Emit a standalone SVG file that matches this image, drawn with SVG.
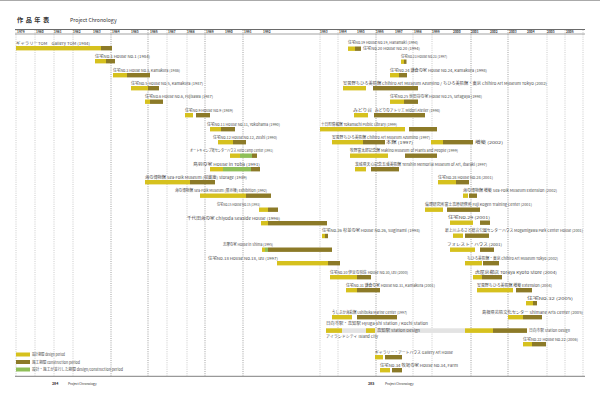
<svg xmlns="http://www.w3.org/2000/svg" width="600" height="395" viewBox="0 0 600 395">
<style>
.y{fill:#d6c11e}.o{fill:#8c7a28}.g{fill:#8fbf58}.l{fill:#e3e3e3}
text{font-family:"Noto Sans CJK JP","Noto Sans",sans-serif;fill:#333}
.t{font-size:4px;fill:#4a4a4a}
.yr{font-size:3.2px;font-weight:bold;fill:#333}
.gl{stroke:#aaa;stroke-width:0.6;stroke-dasharray:1 1.2}
.gd{stroke:#777;stroke-width:0.7;stroke-dasharray:1 1.2}
</style>
<rect x="0" y="0" width="600" height="395" fill="#fff"/>
<rect x="0" y="0" width="600" height="1" fill="#aaa"/>
<g id="title">
<text x="17" y="22" font-size="6.2" font-weight="bold" letter-spacing="2.5">作品年表</text>
<text x="70" y="22" font-size="5.2" fill="#444">Project Chronology</text>
</g>
<g id="grid">
<line class="gl" x1="16" y1="30" x2="16" y2="376"/>
<line class="gl" x1="35" y1="30" x2="35" y2="376"/>
<line class="gl" x1="54" y1="30" x2="54" y2="376"/>
<line class="gl" x1="73" y1="30" x2="73" y2="376"/>
<line class="gd" x1="111" y1="30" x2="111" y2="376"/>
<line class="gd" x1="148" y1="30" x2="148" y2="376"/>
<line class="gl" x1="167" y1="30" x2="167" y2="376"/>
<line class="gl" x1="187" y1="30" x2="187" y2="376"/>
<line class="gd" x1="205" y1="30" x2="205" y2="376"/>
<line class="gd" x1="243" y1="30" x2="243" y2="376"/>
<line class="gl" x1="320" y1="30" x2="320" y2="376"/>
<line class="gl" x1="338" y1="30" x2="338" y2="376"/>
<line class="gd" x1="376" y1="30" x2="376" y2="376"/>
<line class="gl" x1="413" y1="30" x2="413" y2="376"/>
<line class="gl" x1="432" y1="30" x2="432" y2="376"/>
<line class="gd" x1="471" y1="30" x2="471" y2="376"/>
<line class="gd" x1="508" y1="30" x2="508" y2="376"/>
<line class="gl" x1="547" y1="30" x2="547" y2="376"/>
<line class="gl" x1="565" y1="30" x2="565" y2="376"/>
<line class="gl" x1="583" y1="30" x2="583" y2="376"/>
</g>
<g id="header">
<line x1="15" y1="29.5" x2="585" y2="29.5" stroke="#444" stroke-width="0.8"/>
<line x1="15" y1="34" x2="585" y2="34" stroke="#666" stroke-width="0.6"/>
<text class="yr" x="17" y="33">1979</text><text class="yr" x="36" y="33">1980</text><text class="yr" x="54" y="33">1981</text><text class="yr" x="73" y="33">1982</text><text class="yr" x="93" y="33">1983</text><text class="yr" x="112" y="33">1984</text><text class="yr" x="131" y="33">1985</text><text class="yr" x="150" y="33">1986</text><text class="yr" x="168" y="33">1987</text><text class="yr" x="187" y="33">1988</text><text class="yr" x="206" y="33">1989</text><text class="yr" x="225" y="33">1990</text><text class="yr" x="244" y="33">1991</text><text class="yr" x="263" y="33">1992</text>
<text class="yr" x="320" y="33">1993</text><text class="yr" x="339" y="33">1994</text><text class="yr" x="357" y="33">1995</text><text class="yr" x="376" y="33">1996</text><text class="yr" x="395" y="33">1997</text><text class="yr" x="414" y="33">1998</text><text class="yr" x="432" y="33">1999</text><text class="yr" x="453" y="33">2000</text><text class="yr" x="471" y="33">2001</text><text class="yr" x="490" y="33">2002</text><text class="yr" x="509" y="33">2003</text><text class="yr" x="527" y="33">2004</text><text class="yr" x="547" y="33">2005</text><text class="yr" x="566" y="33">2006</text>
</g>
<g id="L1"><text class="t" x="16" y="44.8" textLength="74" lengthAdjust="spacingAndGlyphs">ギャラリーTOM　Gallery TOM (1984)</text><rect class="y" x="16" y="46" width="85" height="4.4"/><rect class="o" x="101" y="46" width="11" height="4.4"/></g>
<g id="L2"><text class="t" x="95" y="57.8" textLength="55" lengthAdjust="spacingAndGlyphs">住宅No.1 House No.1 (1984)</text><rect class="y" x="95" y="59" width="11" height="4.4"/><rect class="o" x="106" y="59" width="9" height="4.4"/></g>
<g id="L3"><text class="t" x="113" y="71.8" textLength="67" lengthAdjust="spacingAndGlyphs">住宅No.3 House No.3, Kamakura (1986)</text><rect class="y" x="113" y="73" width="14" height="4.4"/><rect class="o" x="127" y="73" width="23" height="4.4"/></g>
<g id="L4"><text class="t" x="131" y="84.8" textLength="72" lengthAdjust="spacingAndGlyphs">住宅No.5 House No.5, Kamakura (1987)</text><rect class="y" x="131" y="86" width="17" height="4.4"/><rect class="o" x="148" y="86" width="11" height="4.4"/></g>
<g id="L5"><text class="t" x="145" y="98.3" textLength="68" lengthAdjust="spacingAndGlyphs">住宅No.6 House No.6, Fujisawa (1987)</text><rect class="y" x="145" y="99.5" width="5" height="4.4"/><rect class="o" x="150" y="99.5" width="13" height="4.4"/></g>
<g id="L6"><text class="t" x="185" y="111.8" textLength="48" lengthAdjust="spacingAndGlyphs">住宅No.9 House No.9 (1989)</text><rect class="y" x="185" y="113" width="8" height="4.4"/><rect class="o" x="196" y="113" width="14" height="4.4"/></g>
<g id="L7"><text class="t" x="207" y="125.8" textLength="73" lengthAdjust="spacingAndGlyphs">住宅No.11 House No.11, Yokohama (1990)</text><rect class="y" x="210" y="127" width="11" height="4.4"/><rect class="o" x="221" y="127" width="14" height="4.4"/></g>
<g id="L8"><text class="t" x="213" y="138.8" textLength="64" lengthAdjust="spacingAndGlyphs">住宅No.12 House No.12, Zushi (1990)</text><rect class="y" x="218" y="140" width="15" height="4.4"/><rect class="o" x="233" y="140" width="13" height="4.4"/></g>
<g id="L9"><text class="t" x="190" y="152.3" textLength="83" lengthAdjust="spacingAndGlyphs">オートキャンプ場センターハウス Auto Camp Center (1991)</text><rect class="y" x="230" y="153.5" width="10" height="4.4"/><rect class="g" x="240" y="153.5" width="12" height="4.4"/><rect class="o" x="252" y="153.5" width="5" height="4.4"/></g>
<g id="L10"><text class="t" x="193" y="165.8" textLength="67" lengthAdjust="spacingAndGlyphs">鳥羽の家 House in Toba (1991)</text><rect class="y" x="210" y="167" width="13" height="4.4"/><rect class="g" x="223" y="167" width="28" height="4.4"/><rect class="o" x="251" y="167" width="9" height="4.4"/></g>
<g id="L11"><text class="t" x="145" y="178.8" textLength="102" lengthAdjust="spacingAndGlyphs">海の博物館 Sea-Folk Museum (収蔵庫) Storage (1989)</text><rect class="y" x="145" y="180" width="45" height="4.4"/><rect class="o" x="190" y="180" width="25" height="4.4"/></g>
<g id="L12"><text class="t" x="175" y="192.3" textLength="92" lengthAdjust="spacingAndGlyphs">海の博物館 Sea-Folk Museum (展示棟) Exhibition (1992)</text><rect class="y" x="200" y="193.5" width="46" height="4.4"/><rect class="o" x="246" y="193.5" width="25" height="4.4"/></g>
<g id="L13"><text class="t" x="217" y="206.3" textLength="43" lengthAdjust="spacingAndGlyphs">住宅No.15 House No.15 (1993)</text><rect class="y" x="259" y="207.5" width="9" height="4.4"/><rect class="o" x="268" y="207.5" width="10" height="4.4"/></g>
<g id="L14"><text class="t" x="187" y="219.8" textLength="93" lengthAdjust="spacingAndGlyphs">千代田海の家 Chiyoda Seaside House (1996)</text><rect class="y" x="261" y="221" width="7" height="4.4"/><rect class="o" x="268" y="221" width="59" height="4.4"/></g>
<g id="L15"><text class="t" x="223" y="246.3" textLength="50" lengthAdjust="spacingAndGlyphs">志摩の家 House in Shima (1995)</text><rect class="y" x="262" y="247.5" width="3" height="4.4"/><rect class="g" x="265" y="247.5" width="3" height="4.4"/><rect class="o" x="268" y="247.5" width="64" height="4.4"/></g>
<g id="L16"><text class="t" x="208" y="259.8" textLength="70" lengthAdjust="spacingAndGlyphs">住宅No.18 House No.18, Izu (1997)</text><rect class="y" x="277" y="261" width="51" height="4.4"/><rect class="o" x="328" y="261" width="12" height="4.4"/></g>
<g id="R1"><text class="t" x="348" y="44.3" textLength="70" lengthAdjust="spacingAndGlyphs">住宅No.19 House No.19, Hanamaki (1994)</text><rect class="y" x="348" y="46.5" width="7" height="4.4"/><rect class="o" x="355" y="46.5" width="6" height="4.4"/></g>
<g id="R2"><text class="t" x="363" y="50" textLength="57" lengthAdjust="spacingAndGlyphs">住宅No.20 House No.20 (1994)</text></g>
<g id="R3"><text class="t" x="401" y="58.3" textLength="46" lengthAdjust="spacingAndGlyphs">住宅No.23 House No.23 (1997)</text><rect class="y" x="401" y="59.5" width="3" height="4.4"/><rect class="o" x="404" y="59.5" width="2.5" height="4.4"/></g>
<g id="R4"><text class="t" x="390" y="71.8" textLength="97" lengthAdjust="spacingAndGlyphs">住宅No.24 鎌倉の家 House No.24, Kamakura (1998)</text><rect class="y" x="390" y="73" width="9" height="4.4"/><rect class="o" x="399" y="73" width="8" height="4.4"/></g>
<g id="R5"><text class="t" x="343" y="84.8" textLength="204" lengthAdjust="spacingAndGlyphs">安曇野ちひろ美術館 Chihiro Art Museum Azumino / ちひろ美術館・東京 Chihiro Art Museum Tokyo (2002)</text><rect class="y" x="343" y="86" width="23" height="4.4"/><rect class="o" x="373" y="86" width="45" height="4.4"/></g>
<g id="R6"><text class="t" x="390" y="98.3" textLength="92" lengthAdjust="spacingAndGlyphs">住宅No.25 世田谷の家 House No.25, Setagaya (1998)</text><rect class="y" x="390" y="99.5" width="14" height="4.4"/><rect class="o" x="404" y="99.5" width="14" height="4.4"/></g>
<g id="R7"><text class="t" x="353" y="111.8" textLength="19" lengthAdjust="spacingAndGlyphs">みどり台</text><text class="t" x="375" y="111.8" textLength="65" lengthAdjust="spacingAndGlyphs">みどりのアトリエ Midori Atelier (1998)</text><rect class="y" x="354" y="113" width="14" height="4.4"/><rect class="o" x="374" y="113" width="51" height="4.4"/></g>
<g id="R8"><text class="t" x="321" y="125.8" textLength="76" lengthAdjust="spacingAndGlyphs">十日町情報館 Tokamachi Public Library (1999)</text><rect class="y" x="320" y="127" width="85" height="4.4"/><rect class="o" x="409" y="127" width="28" height="4.4"/></g>
<g id="R9"><text class="t" x="332" y="138.8" textLength="98" lengthAdjust="spacingAndGlyphs">安曇野ちひろ美術館 Chihiro Art Museum Azumino (1997)</text><rect class="y" x="332" y="140" width="31" height="4.4"/><rect class="o" x="363" y="140" width="22" height="4.4"/><text class="t" x="386" y="143.5" textLength="27" lengthAdjust="spacingAndGlyphs">本館 (1997)</text><rect class="y" x="431" y="140" width="12" height="4.4"/><rect class="o" x="443" y="140" width="30" height="4.4"/><text class="t" x="475" y="143.5" textLength="28" lengthAdjust="spacingAndGlyphs">増築 (2002)</text></g>
<g id="R10"><text class="t" x="350" y="152.3" textLength="108" lengthAdjust="spacingAndGlyphs">牧野富太郎記念館 Makino Museum of Plants and People (1999)</text><rect class="y" x="350" y="153.5" width="38" height="4.4"/><rect class="o" x="405" y="153.5" width="32" height="4.4"/></g>
<g id="R11"><text class="t" x="355" y="165.8" textLength="132" lengthAdjust="spacingAndGlyphs">茨城県天心記念五浦美術館 Tenshin Memorial Museum of Art, Ibaraki (1997)</text><rect class="y" x="355" y="167" width="11" height="4.4"/><rect class="o" x="371" y="167" width="28" height="4.4"/></g>
<g id="R12"><text class="t" x="438" y="178.8" textLength="55" lengthAdjust="spacingAndGlyphs">住宅No.28 House No.28 (2001)</text><rect class="y" x="438" y="180" width="18" height="4.4"/><rect class="o" x="456" y="180" width="13" height="4.4"/></g>
<g id="R13"><text class="t" x="463" y="192.3" textLength="94" lengthAdjust="spacingAndGlyphs">海の博物館 増築 Sea-Folk Museum Extension (2002)</text><rect class="y" x="463" y="193.5" width="5" height="4.4"/><rect class="o" x="469" y="193.5" width="8" height="4.4"/></g>
<g id="R14"><text class="t" x="425" y="206.3" textLength="107" lengthAdjust="spacingAndGlyphs">倫理研究所富士高原研修所 Fuji Kogen Training Center (2001)</text><rect class="y" x="425" y="207.5" width="18" height="4.4"/><rect class="o" x="447" y="207.5" width="33" height="4.4"/></g>
<g id="R15"><text class="t" x="448" y="219.3" textLength="42" lengthAdjust="spacingAndGlyphs">住宅No.29 (2001)</text><rect class="y" x="450" y="220.5" width="23" height="4.4"/><rect class="o" x="480" y="220.5" width="10" height="4.4"/></g>
<g id="R16"><text class="t" x="445" y="232.3" textLength="138" lengthAdjust="spacingAndGlyphs">最上川ふるさと総合公園センターハウス Mogamigawa Park Center House (2001)</text><rect class="y" x="453" y="233.5" width="10" height="4.4"/><rect class="o" x="465" y="233.5" width="24" height="4.4"/></g>
<g id="R17"><text class="t" x="322" y="232.3" textLength="98" lengthAdjust="spacingAndGlyphs">住宅No.26 杉並の家 House No.26, Suginami (1998)</text><rect class="y" x="322" y="233.8" width="3" height="4.4"/><rect class="o" x="325" y="233.8" width="3" height="4.4"/></g>
<g id="R18"><text class="t" x="447" y="246.3" textLength="55" lengthAdjust="spacingAndGlyphs">フォレスト・ハウス (2001)</text><rect class="y" x="450" y="247.5" width="25" height="4.4"/><rect class="o" x="480" y="247.5" width="14" height="4.4"/></g>
<g id="R19"><text class="t" x="467" y="259.8" textLength="91" lengthAdjust="spacingAndGlyphs">ちひろ美術館・東京 Chihiro Art Museum Tokyo (2002)</text><rect class="y" x="465" y="261" width="17" height="4.4"/><rect class="o" x="483" y="261" width="16" height="4.4"/></g>
<g id="R20"><text class="t" x="330" y="273.8" textLength="78" lengthAdjust="spacingAndGlyphs">住宅No.30 伊豆の別荘 House No.30, Izu (2000)</text><rect class="y" x="330" y="275" width="27" height="4.4"/><rect class="o" x="357" y="275" width="14" height="4.4"/></g>
<g id="R21"><text class="t" x="475" y="273.8" textLength="82" lengthAdjust="spacingAndGlyphs">虎屋京都店 Toraya Kyoto Store (2004)</text><rect class="y" x="473" y="275" width="9" height="4.4"/><rect class="o" x="482" y="275" width="20" height="4.4"/></g>
<g id="R22"><text class="t" x="346" y="286.8" textLength="89" lengthAdjust="spacingAndGlyphs">住宅No.31 鎌倉の家 House No.31, Kamakura (2001)</text><rect class="y" x="346" y="288" width="11" height="4.4"/><rect class="o" x="357" y="288" width="23" height="4.4"/></g>
<g id="R23"><text class="t" x="477" y="286.8" textLength="75" lengthAdjust="spacingAndGlyphs">安曇野ちひろ美術館 増築 Extension (2004)</text><rect class="y" x="477" y="288" width="36" height="4.4"/><rect class="o" x="516" y="288" width="16" height="4.4"/></g>
<g id="R24"><text class="t" x="527" y="299.8" textLength="46" lengthAdjust="spacingAndGlyphs">住宅No.32 (2005)</text><rect class="y" x="526" y="301" width="7" height="4.4"/><rect class="o" x="533" y="301" width="4" height="4.4"/></g>
<g id="R25"><text class="t" x="332" y="313.8" textLength="75" lengthAdjust="spacingAndGlyphs">うしぶか海彩館 Ushibuka Marine Center (1997)</text><rect class="y" x="332" y="315" width="20" height="4.4"/><rect class="o" x="357" y="315" width="40" height="4.4"/></g>
<g id="R26"><text class="t" x="482" y="313.8" textLength="101" lengthAdjust="spacingAndGlyphs">島根県芸術文化センター Shimane Arts Center (2005)</text><rect class="y" x="508" y="315" width="15" height="4.4"/><rect class="o" x="523" y="315" width="19" height="4.4"/></g>
<g id="R27"><text class="t" x="326" y="325" textLength="102" lengthAdjust="spacingAndGlyphs">日向市駅・高知駅 Hyuga-shi Station / Kochi Station</text><rect class="l" x="342" y="328.3" width="123" height="4.6"/><rect class="y" x="326" y="328.3" width="16" height="4.6"/><rect class="y" x="366" y="328.3" width="9" height="4.6"/><text class="t" x="377" y="332" textLength="43" lengthAdjust="spacingAndGlyphs">高知駅 Station Design</text><rect class="y" x="465" y="328.3" width="28" height="4.6"/><rect class="o" x="493" y="328.3" width="34" height="4.6"/><text class="t" x="529" y="332" textLength="41" lengthAdjust="spacingAndGlyphs">日向市駅 Station Design</text></g>
<g id="R28"><text class="t" x="326" y="337.5" textLength="52" lengthAdjust="spacingAndGlyphs">アイランドシティ Island City</text></g>
<g id="R29"><text class="t" x="523" y="340.8" textLength="55" lengthAdjust="spacingAndGlyphs">住宅No.22 House No.22 (2006)</text><rect class="y" x="523" y="342" width="9" height="4.4"/><rect class="o" x="532" y="342" width="14" height="4.4"/></g>
<g id="R30"><text class="t" x="375" y="353.8" textLength="78" lengthAdjust="spacingAndGlyphs">ギャラリー・アートハウス Gallery Art House</text><rect class="y" x="375" y="355" width="8" height="4.4"/><rect class="o" x="385" y="355" width="17" height="4.4"/></g>
<g id="R31"><text class="t" x="380" y="366.8" textLength="78" lengthAdjust="spacingAndGlyphs">住宅No.34 牧場の家 House No.34, Farm</text><rect class="y" x="380" y="368" width="10" height="4.4"/><rect class="o" x="392" y="368" width="10" height="4.4"/></g>
<g id="legend">
<rect class="y" x="16" y="352.5" width="14" height="4"/><text class="t" x="32" y="356" textLength="33" lengthAdjust="spacingAndGlyphs">設計期間 design period</text>
<rect class="o" x="16" y="360" width="14" height="4"/><text class="t" x="32" y="363.5" textLength="48" lengthAdjust="spacingAndGlyphs">施工期間 construction period</text>
<rect class="g" x="16" y="367.5" width="14" height="4"/><text class="t" x="32" y="371" textLength="91" lengthAdjust="spacingAndGlyphs">設計・施工が並行した期間 design/construction period</text>
</g>
<g id="footer">
<line x1="15" y1="376.3" x2="585" y2="376.3" stroke="#999" stroke-width="1.2"/>
<text x="52" y="384.5" font-size="3.6" font-weight="bold">284</text><text x="68" y="384.5" font-size="3.2" fill="#888">Project Chronology</text>
<text x="368" y="384.5" font-size="3.6" font-weight="bold">285</text><text x="385" y="384.5" font-size="3.2" fill="#888">Project Chronology</text>
</g>
</svg>
